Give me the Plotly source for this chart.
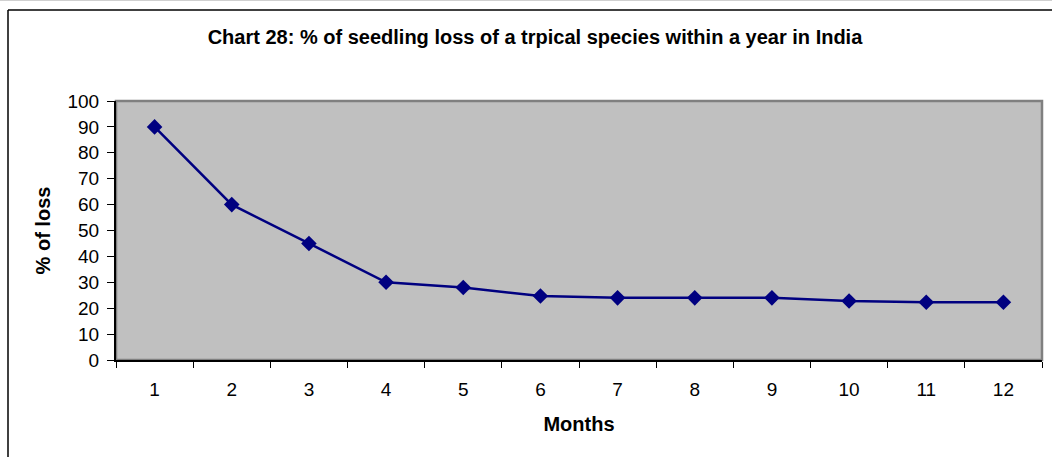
import plotly.graph_objects as go

months = ["1", "2", "3", "4", "5", "6", "7", "8", "9", "10", "11", "12"]
loss_pct = [90, 60, 45, 30, 28, 24.7, 24, 24, 24, 22.8, 22.3, 22.3]
y_ticks = [0, 10, 20, 30, 40, 50, 60, 70, 80, 90, 100]

W, H = 1052, 457
ML, MR, MT, MB = 116, 10, 101, 97
pw = W - ML - MR
ph = H - MT - MB

def px_x(p):
    # pixel from left -> paper x
    return (p - ML) / pw

def px_y(p):
    # pixel from top -> paper y
    return (H - MB - p) / ph

fig = go.Figure()
fig.add_trace(go.Scatter(
    x=months, y=loss_pct, mode="lines+markers",
    line=dict(color="#000080", width=2.5),
    marker=dict(symbol="diamond", size=12, color="#000080"),
    showlegend=False, hoverinfo="x+y",
))

font = "Liberation Sans, Arial, sans-serif"
fig.update_layout(
    width=W, height=H,
    margin=dict(l=ML, r=MR, t=MT, b=MB, pad=0),
    paper_bgcolor="white",
    plot_bgcolor="#C0C0C0",
    font=dict(family=font, size=19, color="black"),
    title=dict(text="<b>Chart 28: % of seedling loss of a trpical species within a year in India</b>",
               x=535 / W, xanchor="center", y=1 - 37 / H, yanchor="middle",
               font=dict(size=20, family=font, color="black")),
    xaxis=dict(
        type="category", range=[-0.5, 11.5], tickson="boundaries",
        ticks="outside", ticklen=6, tickcolor="black", tickwidth=1,
        showline=True, linecolor="black", linewidth=2,
        showgrid=False, zeroline=False,
        tickfont=dict(size=19), ticklabelstandoff=11,
        title=dict(text="<b>Months</b>", font=dict(size=20), standoff=18),
    ),
    yaxis=dict(
        range=[0, 100], tickvals=y_ticks, ticktext=[str(v) for v in y_ticks],
        ticks="outside", ticklen=7, tickcolor="black", tickwidth=1,
        showline=True, linecolor="black", linewidth=2,
        showgrid=False, zeroline=False,
        tickfont=dict(size=19), ticklabelstandoff=4,
        title=dict(text="<b>% of loss</b>", font=dict(size=20), standoff=11),
    ),
    shapes=[
        # plot area border (top/right grey)
        dict(type="rect", xref="paper", yref="paper", x0=0, x1=1, y0=0, y1=1,
             line=dict(color="#808080", width=2.5), layer="below"),
        # outer chart frame (top and left)
        dict(type="line", xref="paper", yref="paper",
             x0=px_x(8), x1=px_x(W + 5), y0=px_y(10), y1=px_y(10),
             line=dict(color="black", width=1.5)),
        dict(type="line", xref="paper", yref="paper",
             x0=px_x(8), x1=px_x(8), y0=px_y(10), y1=px_y(H + 5),
             line=dict(color="black", width=1.5)),
        dict(type="line", xref="paper", yref="paper",
             x0=px_x(0), x1=px_x(W), y0=px_y(0.5), y1=px_y(0.5),
             line=dict(color="#d0d0d0", width=1)),
    ],
)

fig.write_html(
    "out.html",
    config={"displayModeBar": False},
    post_script="document.body.style.margin='0';document.body.style.overflow='hidden';",
)
